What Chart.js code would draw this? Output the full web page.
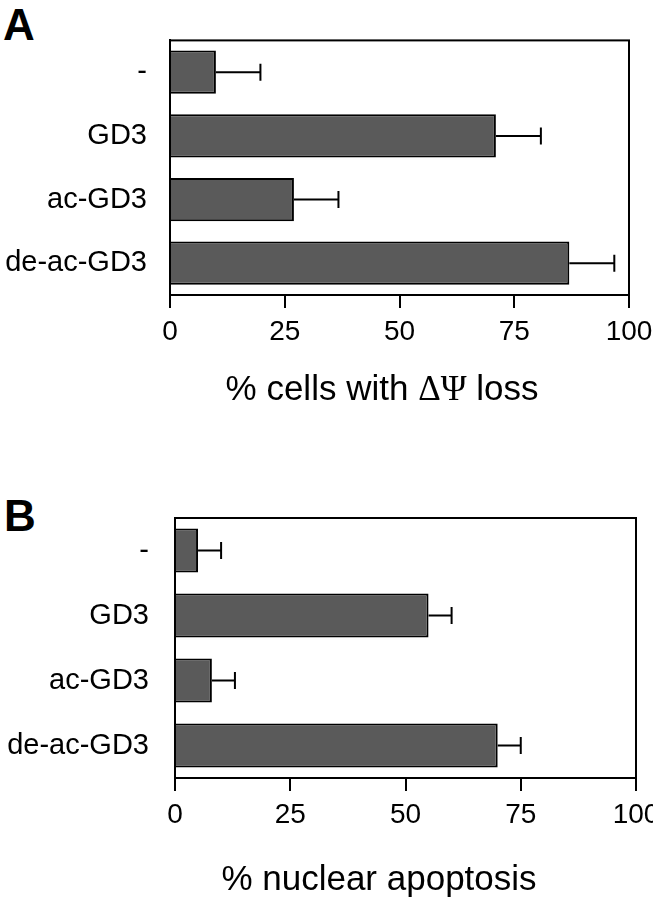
<!DOCTYPE html>
<html lang="en">
<head>
  <meta charset="UTF-8" />
  <title>GD3 - ΔΨ loss and nuclear apoptosis</title>
  <style>
    body {
      margin: 0;
      padding: 0;
      background: #fff;
      width: 653px;
      height: 899px;
      overflow: hidden;
      position: relative;
      font-family: "Liberation Sans", Arial, sans-serif;
    }
    .panel-letter {
      position: absolute;
      font-weight: bold;
      font-size: 44px;
      line-height: 1;
      color: #000;
    }
    .axis-title {
      position: absolute;
      width: 400px;
      text-align: center;
      font-size: 35px;
      line-height: 1;
      color: #000;
      white-space: nowrap;
    }
    .greek {
      font-family: "Liberation Serif", "DejaVu Serif", serif;
    }
    canvas {
      position: absolute;
      left: 0;
    }
  </style>
</head>
<body>
  <div class="panel-letter" style="left:3px; top:3px;">A</div>
  <div class="panel-letter" style="left:4px; top:494px;">B</div>
  <canvas id="chartA" width="680" height="440" style="top:0;"></canvas>
  <canvas id="chartB" width="680" height="449" style="top:450px;"></canvas>
  <div class="axis-title" style="left:182px; top:370px;">% cells with <span class="greek">ΔΨ</span> loss</div>
  <div class="axis-title" style="left:179px; top:860px;">% nuclear apoptosis</div>

  <script src="https://cdn.jsdelivr.net/npm/chart.js"></script>
  <script>
    const categories = ["-", "GD3", "ac-GD3", "de-ac-GD3"];
    const lossValues = [10, 71, 27, 87];
    const lossErrors = [9.7, 9.8, 9.7, 9.8];
    const apoptosisValues = [5, 55, 8, 70];
    const apoptosisErrors = [5, 5, 5, 5];
    const xTicks = [0, 25, 50, 75, 100];

    const FONT = "'Liberation Sans', Arial, sans-serif";

    // Draws the frame and the one-sided error bars (mean + error)
    const errorBarsPlugin = {
      id: "errorBars",
      afterDatasetsDraw(chart) {
        const ctx = chart.ctx;
        const area = chart.chartArea;
        const xScale = chart.scales.x;
        const errors = chart.options.plugins.errorBars.errors;
        const meta = chart.getDatasetMeta(0);
        const values = chart.data.datasets[0].data;
        ctx.save();
        ctx.strokeStyle = "#000";
        ctx.lineWidth = 2;
        meta.data.forEach((bar, i) => {
          const xEnd = xScale.getPixelForValue(values[i] + errors[i]);
          ctx.beginPath();
          ctx.moveTo(bar.x, bar.y);
          ctx.lineTo(xEnd, bar.y);
          ctx.moveTo(xEnd, bar.y - 8.5);
          ctx.lineTo(xEnd, bar.y + 8.5);
          ctx.stroke();
        });
        ctx.strokeRect(area.left, area.top, area.right - area.left, area.bottom - area.top);
        ctx.restore();
      },
    };

    function makeChart(canvasId, values, errors, geo) {
      const ctx = document.getElementById(canvasId).getContext("2d");
      return new Chart(ctx, {
        type: "bar",
        data: {
          labels: categories,
          datasets: [{
            data: values,
            backgroundColor: "#5a5a5a",
            borderColor: "#000",
            borderWidth: 2,
            barPercentage: 0.68,
            categoryPercentage: 1,
          }],
        },
        plugins: [errorBarsPlugin],
        options: {
          indexAxis: "y",
          responsive: false,
          animation: false,
          devicePixelRatio: 1,
          layout: {
            padding: { left: 0, right: geo.right, top: geo.top, bottom: 0 },
          },
          plugins: {
            legend: { display: false },
            tooltip: { enabled: false },
            errorBars: { errors: errors },
          },
          scales: {
            x: {
              type: "linear",
              min: 0,
              max: 100,
              afterBuildTicks(scale) {
                scale.ticks = xTicks.map(v => ({ value: v }));
              },
              afterFit(scale) {
                scale.height = geo.xHeight;
              },
              grid: {
                drawOnChartArea: false,
                drawTicks: true,
                tickLength: 13,
                color: "#000",
                lineWidth: 2,
              },
              border: { display: true, color: "#000", width: 2 },
              ticks: {
                color: "#000",
                padding: 7,
                font: { family: FONT, size: 28 },
              },
            },
            y: {
              afterFit(scale) {
                scale.width = geo.left;
              },
              grid: { display: false, drawTicks: false },
              border: { display: true, color: "#000", width: 2 },
              ticks: {
                color: "#000",
                padding: geo.labelPad,
                font: { family: FONT, size: 29 },
              },
            },
          },
        },
      });
    }

    makeChart("chartA", lossValues, lossErrors,
      { left: 170, right: 51, top: 37, xHeight: 145, labelPad: 23 });
    makeChart("chartB", apoptosisValues, apoptosisErrors,
      { left: 175, right: 44, top: 68, xHeight: 121, labelPad: 26 });
  </script>
</body>
</html>
